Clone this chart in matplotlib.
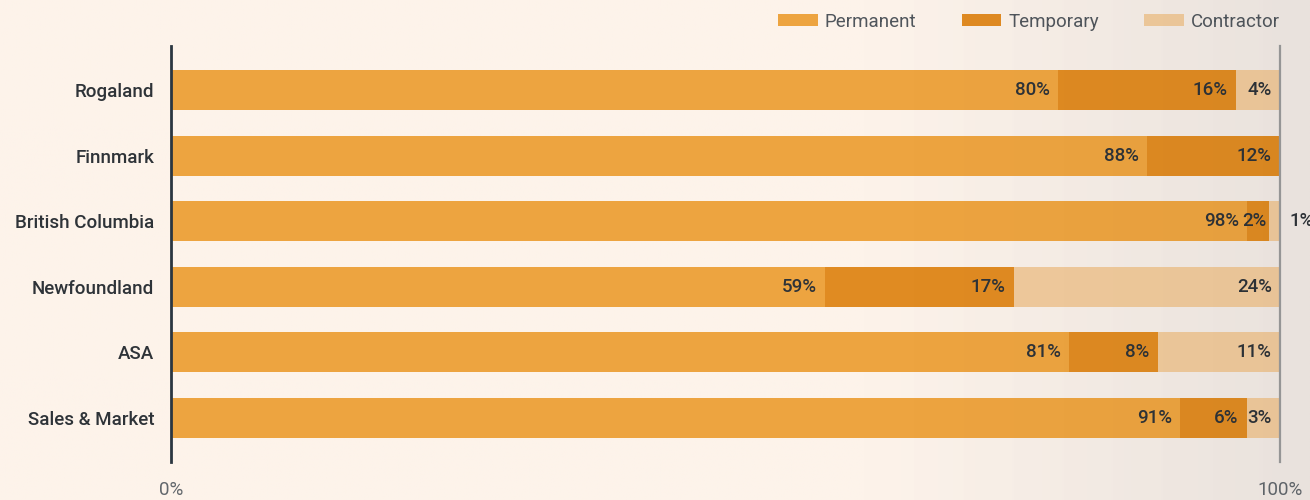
import numpy as np
import matplotlib
matplotlib.use("Agg")
import matplotlib.pyplot as plt

plt.rcParams.update({
    "font.family": ["Roboto", "DejaVu Sans"],
    "font.size": 13.5,
})

# ---------------------------------------------------------
#  Data (percent of headcount per unit)
# ---------------------------------------------------------
units      = ["Rogaland", "Finnmark", "British Columbia",
              "Newfoundland", "ASA", "Sales & Market"]
permanent  = [80, 88, 98, 59, 81, 91]
temporary  = [16, 12, 2, 17, 8, 6]
contractor = [4, 0, 1, 24, 11, 3]
series_names = ["Permanent", "Temporary", "Contractor"]

BG_COLOR   = "#FDF3EA"
COLORS     = ["#EDA440", "#E08B22", "#F0CA9C"]
LABEL_DARK = "#2E3338"
AXIS_DARK  = "#2B3640"
TICK_GREY  = "#62676C"

fig = plt.figure(figsize=(13.1, 5.0), dpi=100)
fig.patch.set_facecolor(BG_COLOR)

# background wash: cream on the left, warm grey toward the right edge
bg = fig.add_axes([0, 0, 1, 1], zorder=-10)
bg.axis("off")
xs = np.linspace(0, 1, 600)
ramp = np.clip((xs - 0.66) / 0.34, 0, 1)
c0 = np.array([253, 243, 234]) / 255
c1 = np.array([241, 234, 229]) / 255
grad = c0[None, :] * (1 - ramp[:, None]) + c1[None, :] * ramp[:, None]
bg.imshow(np.repeat(grad[None, :, :], 2, axis=0), extent=[0, 1, 0, 1],
          aspect="auto", interpolation="bilinear")
bg.set_xlim(0, 1)
bg.set_ylim(0, 1)

ax = fig.add_axes([171 / 1310, 38 / 500, 1109 / 1310, 416 / 500])
ax.patch.set_alpha(0)

y = np.arange(len(units))
data = np.array([permanent, temporary, contractor], dtype=float)
totals = data.sum(axis=0)
shares = data / totals            # each row fills the full width

left = np.zeros(len(units))
for i, name in enumerate(series_names):
    ax.barh(y, shares[i], left=left, height=0.61,
            color=COLORS[i], label=name, zorder=2)
    for j in range(len(units)):
        val = data[i, j]
        if val <= 0:
            continue
        end = left[j] + shares[i, j]
        if val < 1.5:
            # too thin to hold its label -> put it outside the bar
            ax.annotate(f"{val:.0f}%", (end, y[j]), xytext=(7, 0),
                        textcoords="offset points", ha="left", va="center",
                        color=LABEL_DARK, fontsize=13.5, fontweight="medium",
                        annotation_clip=False, zorder=3)
        else:
            pad = -2 if val < 5 and i > 0 and shares[i, j] < 0.03 else -6
            ax.annotate(f"{val:.0f}%", (end, y[j]), xytext=(pad, 0),
                        textcoords="offset points", ha="right", va="center",
                        color=LABEL_DARK, fontsize=13.5, fontweight="medium",
                        zorder=3)
    left += shares[i]

ax.set_xlim(0, 1)
ax.set_ylim(len(units) - 1 + 0.67, -0.67)

# axes styling
for s in ["top", "bottom"]:
    ax.spines[s].set_visible(False)
ax.spines["left"].set_color(AXIS_DARK)
ax.spines["left"].set_linewidth(2)
ax.spines["right"].set_color("#9A9A9A")
ax.spines["right"].set_linewidth(1.6)
ax.spines["left"].set_zorder(4)
ax.spines["right"].set_zorder(4)

ax.set_yticks(y)
ax.set_yticklabels(units, color=LABEL_DARK, fontsize=13.5, fontweight="medium")
ax.tick_params(axis="y", length=0, pad=12)
ax.set_xticks([0, 1])
ax.set_xticklabels(["0%", "100%"], color=TICK_GREY, fontsize=13.5)
ax.tick_params(axis="x", length=0, pad=14)

leg = ax.legend(loc="upper right", bbox_to_anchor=(1.0, 1.080), ncol=3,
                frameon=False, borderpad=0, borderaxespad=0,
                handlelength=2.13, handleheight=0.64, handletextpad=0.37,
                columnspacing=2.4, fontsize=13.5)
for t in leg.get_texts():
    t.set_color("#50565C")

# faint darkening over everything toward the right edge
ov = fig.add_axes([0, 0, 1, 1], zorder=10)
ov.axis("off")
shade = np.zeros((2, xs.size, 4))
shade[..., 3] = ramp * 0.035
ov.imshow(shade, extent=[0, 1, 0, 1], aspect="auto", interpolation="bilinear")
ov.set_xlim(0, 1)
ov.set_ylim(0, 1)

fig.savefig("out.png", dpi=100, facecolor=BG_COLOR)
